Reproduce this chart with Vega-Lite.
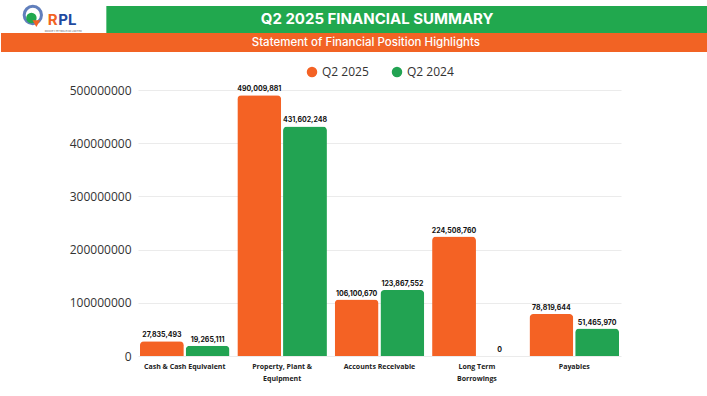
{
  "$schema": "https://vega.github.io/schema/vega-lite/v6.json",
  "padding": {"left": 0, "top": 0, "right": 0, "bottom": 12},
  "spacing": 32,
  "columns": 1,
  "background": "white",
  "config": {"view": {"stroke": null}, "font": "Inter"},
  "concat": [
    {
      "spacing": 0,
      "columns": 1,
      "concat": [
        {
          "width": 483,
          "height": 29,
          "layer": [
            {
              "data": {"values": [{"x0": 0.149, "x1": 1, "y0": 0, "y1": 0.93}]},
              "mark": {"type": "rect", "color": "#21a84e"},
              "encoding": {
                "x": {"field": "x0", "type": "quantitative", "scale": {"domain": [0.193777, 0.876945], "nice": false, "zero": false}, "axis": null},
                "x2": {"field": "x1"},
                "y": {"field": "y0", "type": "quantitative", "scale": {"domain": [0, 1]}, "axis": null},
                "y2": {"field": "y1"}
              }
            },
            {
              "data": {"values": [{"x": 0.532, "y": 0.47, "t": "Q2 2025 FINANCIAL SUMMARY"}]},
              "mark": {"type": "text", "color": "white", "fontSize": 15, "fontWeight": "bold", "font": "Inter"},
              "encoding": {
                "x": {"field": "x", "type": "quantitative", "scale": {"domain": [0.193777, 0.876945], "nice": false, "zero": false}, "axis": null},
                "y": {"field": "y", "type": "quantitative", "scale": {"domain": [0, 1]}, "axis": null},
                "text": {"field": "t"}
              }
            },
            {
              "data": {"values": [{"x": 0.045, "y": 0.62}]},
              "mark": {"type": "point", "filled": false, "color": "#1f4aa0", "strokeWidth": 3, "size": 300},
              "encoding": {
                "x": {"field": "x", "type": "quantitative", "scale": {"domain": [0.193777, 0.876945], "nice": false, "zero": false}, "axis": null},
                "y": {"field": "y", "type": "quantitative", "scale": {"domain": [0, 1]}, "axis": null}
              }
            },
            {
              "data": {"values": [{"x": 0.043, "y": 0.52}]},
              "mark": {"type": "point", "filled": true, "color": "#21a84e", "size": 110, "opacity": 1},
              "encoding": {
                "x": {"field": "x", "type": "quantitative", "scale": {"domain": [0.193777, 0.876945], "nice": false, "zero": false}, "axis": null},
                "y": {"field": "y", "type": "quantitative", "scale": {"domain": [0, 1]}, "axis": null}
              }
            },
            {
              "data": {"values": [{"x": 0.05, "y": 0.32}]},
              "mark": {"type": "point", "shape": "triangle-down", "filled": true, "color": "#f26324", "size": 60, "opacity": 1},
              "encoding": {
                "x": {"field": "x", "type": "quantitative", "scale": {"domain": [0.193777, 0.876945], "nice": false, "zero": false}, "axis": null},
                "y": {"field": "y", "type": "quantitative", "scale": {"domain": [0, 1]}, "axis": null}
              }
            },
            {
              "data": {"values": [{"x": 0.066, "y": 0.45, "t": "R", "c": "#f26324"}, {"x": 0.081, "y": 0.45, "t": "PL", "c": "#1f4aa0"}]},
              "mark": {"type": "text", "align": "left", "fontSize": 15, "fontWeight": "bold", "font": "Inter"},
              "encoding": {
                "x": {"field": "x", "type": "quantitative", "scale": {"domain": [0.193777, 0.876945], "nice": false, "zero": false}, "axis": null},
                "y": {"field": "y", "type": "quantitative", "scale": {"domain": [0, 1]}, "axis": null},
                "text": {"field": "t"}, 
                "color": {"field": "c", "type": "nominal", "scale": null}
              }
            },
            {
              "data": {"values": [{"x": 0.088, "y": 0.07, "t": "ROOKEY PETROLEUM LIMITED"}]},
              "mark": {"type": "text", "fontSize": 2.5, "color": "#666"},
              "encoding": {
                "x": {"field": "x", "type": "quantitative", "scale": {"domain": [0.193777, 0.876945], "nice": false, "zero": false}, "axis": null},
                "y": {"field": "y", "type": "quantitative", "scale": {"domain": [0, 1]}, "axis": null},
                "text": {"field": "t"}
              }
            }
          ]
        },
        {
          "width": 483,
          "height": 19,
          "layer": [
            {
              "data": {"values": [{"x0": 0, "x1": 1, "y0": 0, "y1": 1}]},
              "mark": {"type": "rect", "color": "#f26324"},
              "encoding": {
                "x": {"field": "x0", "type": "quantitative", "scale": {"domain": [0.193777, 0.876945], "nice": false, "zero": false}, "axis": null},
                "x2": {"field": "x1"},
                "y": {"field": "y0", "type": "quantitative", "scale": {"domain": [0, 1]}, "axis": null},
                "y2": {"field": "y1"}
              }
            },
            {
              "data": {"values": [{"x": 0.516, "y": 0.5, "t": "Statement of Financial Position Highlights"}]},
              "mark": {"type": "text", "color": "white", "fontSize": 11.5, "fontWeight": 500, "font": "Inter"},
              "encoding": {
                "x": {"field": "x", "type": "quantitative", "scale": {"domain": [0.193777, 0.876945], "nice": false, "zero": false}, "axis": null},
                "y": {"field": "y", "type": "quantitative", "scale": {"domain": [0, 1]}, "axis": null},
                "text": {"field": "t"}
              }
            }
          ]
        }
      ]
    },
    {
      "width": 483,
      "height": 266,
      "data": {
        "values": [
          {"category": "Cash & Cash Equivalent", "series": "Q2 2025", "value": 27835493},
          {"category": "Cash & Cash Equivalent", "series": "Q2 2024", "value": 19265111},
          {"category": "Property, Plant & Equipment", "series": "Q2 2025", "value": 490009881},
          {"category": "Property, Plant & Equipment", "series": "Q2 2024", "value": 431602248},
          {"category": "Accounts Receivable", "series": "Q2 2025", "value": 106100670},
          {"category": "Accounts Receivable", "series": "Q2 2024", "value": 123867552},
          {"category": "Long Term Borrowings", "series": "Q2 2025", "value": 224508760},
          {"category": "Long Term Borrowings", "series": "Q2 2024", "value": 0},
          {"category": "Payables", "series": "Q2 2025", "value": 78819644},
          {"category": "Payables", "series": "Q2 2024", "value": 51465970}
        ]
      },
      "encoding": {
        "x": {
          "field": "category",
          "type": "nominal",
          "sort": null,
          "title": null,
          "scale": {"paddingInner": 0.08, "paddingOuter": 0.02},
          "axis": {
            "labelAngle": 0,
            "ticks": false,
            "domain": false,
            "labelPadding": 6,
            "labelFont": "Open Sans",
            "labelFontSize": 7,
            "labelFontWeight": "bold",
            "labelColor": "#222",
            "labelLineHeight": 12,
            "labelExpr": "datum.value == 'Property, Plant & Equipment' ? ['Property, Plant  &', 'Equipment'] : datum.value == 'Long Term Borrowings' ? ['Long Term', 'Borrowings'] : datum.value"
          }
        },
        "xOffset": {"field": "series", "type": "nominal", "sort": ["Q2 2025", "Q2 2024"], "scale": {"paddingInner": 0.04}},
        "y": {
          "field": "value",
          "type": "quantitative",
          "title": null,
          "scale": {"domain": [0, 500000000], "nice": false},
          "axis": {
            "values": [0, 100000000, 200000000, 300000000, 400000000, 500000000],
            "format": "d",
            "domain": false,
            "ticks": false,
            "labelPadding": 7,
            "minExtent": 137,
            "labelFont": "Open Sans",
            "labelFontSize": 12,
            "labelColor": "#333",
            "gridColor": "#ebebeb",
            "labelFlush": false
          }
        }
      },
      "layer": [
        {
          "mark": {"type": "bar", "cornerRadiusTopLeft": 4, "cornerRadiusTopRight": 4},
          "encoding": {
            "color": {
              "field": "series",
              "type": "nominal",
              "sort": ["Q2 2025", "Q2 2024"],
              "scale": {"domain": ["Q2 2025", "Q2 2024"], "range": ["#f46224", "#22a352"]},
              "legend": {
                "orient": "none",
                "legendX": 168,
                "legendY": 62,
                "direction": "horizontal",
                "title": null,
                "symbolType": "circle",
                "symbolSize": 110,
                "labelFont": "Open Sans",
                "labelFontSize": 12,
                "labelColor": "#333",
                "columnPadding": 22
              }
            }
          }
        },
        {
          "mark": {"type": "text", "baseline": "bottom", "dy": -3, "font": "Inter", "fontSize": 7, "fontWeight": "bold", "color": "#111"},
          "encoding": {
            "text": {"field": "value", "type": "quantitative", "format": ","}
          }
        }
      ]
    }
  ]
}
